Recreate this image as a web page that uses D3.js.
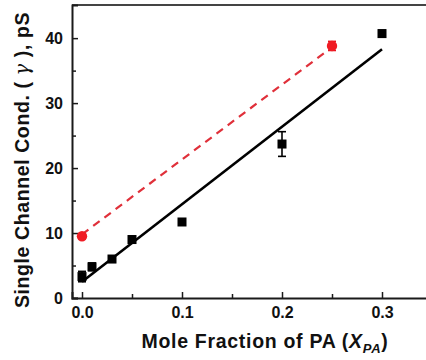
<!DOCTYPE html>
<html>
<head>
<meta charset="utf-8">
<script src="https://cdn.jsdelivr.net/npm/d3@7"></script>
<style>
  html, body { margin: 0; padding: 0; background: #fff; }
  svg { display: block; }
  text { font-family: "Liberation Sans", Arial, sans-serif; font-weight: bold; fill: #111; }
</style>
</head>
<body>
<svg id="chart" width="426" height="360"></svg>
<script>
// Conductance vs PA mole fraction
const blackX = [0, 0.01, 0.03, 0.05, 0.1, 0.2, 0.3];
const blackY = [3.3, 4.8, 6.0, 9.0, 11.7, 23.7, 40.7];
const blackErr = [0.8, 0.6, 0.5, 0.5, 0.4, 1.9, 0.5];

const redX = [0, 0.25];
const redY = [9.5, 38.8];
const redErr = [0.4, 0.7];

// linear fits
const blackFitX = [0, 0.3];
const blackFitY = [2.5, 38.3];
const redFitX = [0, 0.25];
const redFitY = [9.8, 38.6];

const xTicks = [0, 0.1, 0.2, 0.3];
const xMinor = [0.05, 0.15, 0.25];
const yTicks = [0, 10, 20, 30, 40];
const yMinor = [5, 15, 25, 35];

const svg = d3.select("#chart");
const plotL = 72, plotR = 428, plotT = 5, plotB = 298;

const x = d3.scaleLinear().domain([-0.01, 0.346]).range([plotL, plotR]);
const y = d3.scaleLinear().domain([0, 45.1]).range([plotB, plotT]);

// frame
const axisColor = "#1a1a1a";
svg.append("line").attr("x1", plotL).attr("x2", plotR + 5).attr("y1", plotT).attr("y2", plotT)
  .attr("stroke", "#444").attr("stroke-width", 2);

// y axis: major ticks inward with labels
const yAxis = d3.axisLeft(y).tickValues(yTicks).tickSize(-6).tickPadding(9).tickFormat(d3.format("d"));
const gy = svg.append("g").attr("transform", `translate(${plotL},0)`).call(yAxis);
gy.selectAll("text").style("font-size", "16px");
gy.select(".domain").attr("stroke", axisColor).attr("stroke-width", 2);
gy.selectAll(".tick line").attr("stroke", axisColor).attr("stroke-width", 1.5);
svg.append("g").attr("transform", `translate(${plotL},0)`)
  .call(d3.axisLeft(y).tickValues(yMinor).tickSize(-4).tickFormat(""))
  .call(g => g.select(".domain").remove())
  .selectAll(".tick line").attr("stroke", axisColor).attr("stroke-width", 1.5);

// x axis
const xAxis = d3.axisBottom(x).tickValues(xTicks).tickSize(-6).tickPadding(9).tickFormat(d3.format(".1f"));
const gx = svg.append("g").attr("transform", `translate(0,${plotB})`).call(xAxis);
gx.selectAll("text").style("font-size", "16px");
gx.select(".domain").attr("stroke", axisColor).attr("stroke-width", 2);
gx.selectAll(".tick line").attr("stroke", axisColor).attr("stroke-width", 1.5);
svg.append("g").attr("transform", `translate(0,${plotB})`)
  .call(d3.axisBottom(x).tickValues(xMinor).tickSize(-4).tickFormat(""))
  .call(g => g.select(".domain").remove())
  .selectAll(".tick line").attr("stroke", axisColor).attr("stroke-width", 1.5);

// fit lines
const line = d3.line().x(d => x(d[0])).y(d => y(d[1]));
svg.append("path").datum(d3.zip(redFitX, redFitY)).attr("d", line)
  .attr("fill", "none").attr("stroke", "#e0303a").attr("stroke-width", 2.2)
  .attr("stroke-dasharray", "8,6");
svg.append("path").datum(d3.zip(blackFitX, blackFitY)).attr("d", line)
  .attr("fill", "none").attr("stroke", "#000").attr("stroke-width", 2.6);

// error bars
function errorBars(xs, ys, es, color) {
  const g = svg.append("g").attr("stroke", color).attr("stroke-width", 1.6);
  xs.forEach((xv, i) => {
    const cx = x(xv), y1 = y(ys[i] - es[i]), y2 = y(ys[i] + es[i]);
    g.append("line").attr("x1", cx).attr("x2", cx).attr("y1", y1).attr("y2", y2);
    g.append("line").attr("x1", cx - 4).attr("x2", cx + 4).attr("y1", y1).attr("y2", y1);
    g.append("line").attr("x1", cx - 4).attr("x2", cx + 4).attr("y1", y2).attr("y2", y2);
  });
}
errorBars(blackX, blackY, blackErr, "#000");
errorBars(redX, redY, redErr, "#e8141e");

// markers
const sq = 9;
svg.append("g").selectAll("rect").data(d3.zip(blackX, blackY)).join("rect")
  .attr("x", d => x(d[0]) - sq / 2).attr("y", d => y(d[1]) - sq / 2)
  .attr("width", sq).attr("height", sq).attr("fill", "#000");
svg.append("g").selectAll("circle").data(d3.zip(redX, redY)).join("circle")
  .attr("cx", d => x(d[0])).attr("cy", d => y(d[1])).attr("r", 5.2).attr("fill", "#f01c24");

// axis titles
const xt = svg.append("text").attr("x", 265).attr("y", 348).attr("text-anchor", "middle")
  .style("font-size", "19.5px").style("letter-spacing", "0.7px");
xt.append("tspan").text("Mole Fraction of PA (");
xt.append("tspan").attr("font-style", "italic").text("X");
xt.append("tspan").attr("font-style", "italic").attr("font-size", "13px").attr("dy", 5).text("PA");
xt.append("tspan").attr("dy", -5).text(")");

const yt = svg.append("text").attr("transform", "translate(29,160) rotate(-90)")
  .attr("text-anchor", "middle").style("font-size", "19.5px").style("letter-spacing", "0.6px");
yt.append("tspan").text("Single Channel Cond. ( ");
yt.append("tspan").attr("font-style", "italic").attr("font-weight", "normal")
  .attr("font-family", "'DejaVu Serif', serif").text("γ");
yt.append("tspan").text(" ), pS");
</script>
</body>
</html>
